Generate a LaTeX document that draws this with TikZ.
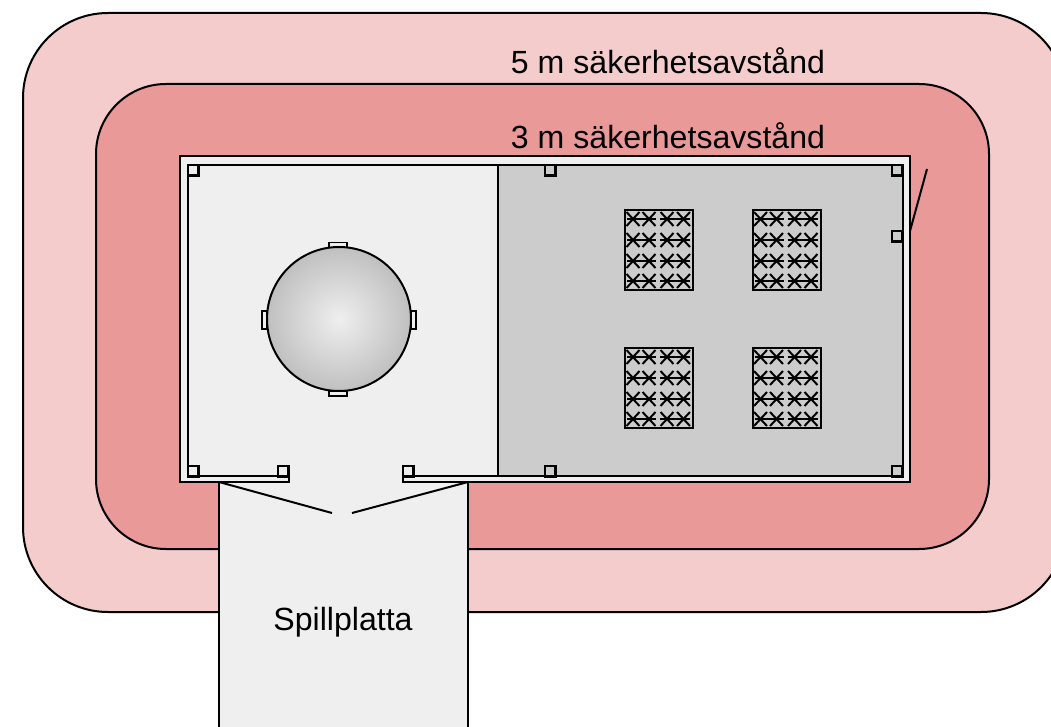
\documentclass[tikz,border=0pt]{standalone}
\usepackage{fontspec}
\setmainfont{Liberation Sans}
\definecolor{outerpink}{HTML}{F4CCCC}
\definecolor{midpink}{HTML}{EA9999}
\definecolor{lightgrey}{HTML}{EFEFEF}
\definecolor{roomgrey}{HTML}{CCCCCC}
\definecolor{tankedge}{HTML}{B8B8B8}
\pgfdeclareradialshading{tankshade}{\pgfpoint{0bp}{0bp}}{color(0bp)=(lightgrey); color(29bp)=(tankedge); color(100bp)=(tankedge)}
\tikzset{
  ln/.style={draw=black,line width=2pt},
  post/.style={draw=black,line width=2.2pt,fill=none},
  lug/.style={draw=black,line width=1.8pt,fill=lightgrey},
  rack/.style={draw=black,line width=2pt,fill=roomgrey},
  lab/.style={font=\fontsize{32.1}{36}\selectfont,text=black,inner sep=0pt,anchor=base},
  pallet/.pic={
    \draw[rack] (0,0) rectangle (68,80);
    \foreach \ry in {9,30,51,71}{
      \draw[line width=1.8pt] (2,\ry) -- (31,\ry) (35,\ry) -- (65,\ry);
      \foreach \cx in {8,24,42,58.5}{
        \draw[line width=2pt] (\cx-6.5,\ry-7) -- (\cx+6.5,\ry+7) (\cx-6.5,\ry+7) -- (\cx+6.5,\ry-7);
      }
    }
  }
}
\begin{document}
\begin{tikzpicture}[x=1pt,y=-1pt]
\useasboundingbox (0,0) rectangle (1051,727);
\clip (0,0) rectangle (1051,727);
\fill[white] (0,0) rectangle (1051,727);
% safety zones
\draw[ln,fill=outerpink,rounded corners=85pt] (23,13) rectangle (1066,612);
\draw[ln,fill=midpink,rounded corners=70pt] (96,84) rectangle (989,549);
% spill plate
\fill[lightgrey] (219,482) rectangle (468,730);
\draw[ln] (219,482) -- (219,730) (468,482) -- (468,730);
% building
\fill[lightgrey] (180,156) rectangle (910,482);
\fill[roomgrey] (498,165) rectangle (903,476);
\draw[ln] (289,476) -- (289,482) -- (180,482) -- (180,156) -- (910,156) -- (910,482) -- (403,482) -- (403,476);
\draw[ln] (289,476) -- (188,476) -- (188,165) -- (903,165) -- (903,476) -- (403,476);
\draw[ln] (498,165) -- (498,476);
% posts
\foreach \px/\py in {188/165,545/165,892/165,892/231,188/466,278/466,403/466,545/466,892/466}{
  \draw[post] (\px,\py) rectangle ++(10.5,10.5);
}
% doors
\coordinate (doorLa) at (219,482);
\coordinate (doorLb) at (332,513);
\coordinate (doorRa) at (468,482);
\coordinate (doorRb) at (352,513);
\coordinate (gateA) at (910,231);
\coordinate (gateB) at (927,169);
\draw[ln] (doorLa) -- (doorLb);
\draw[ln] (doorRa) -- (doorRb);
\draw[ln] (gateA) -- (gateB);
% tank
\draw[lug] (329,242.5) rectangle (347,247.5);
\draw[lug] (329,391) rectangle (347,396);
\draw[lug] (262,311) rectangle (267,329);
\draw[lug] (411,311) rectangle (416,329);
\shade[shading=tankshade] (339,319) circle (72);
\draw[ln] (339,319) circle (72);
% racks
\pic at (625,210) {pallet};
\pic at (752.5,210) {pallet};
\pic at (625,348) {pallet};
\pic at (752.5,348) {pallet};
% labels
\node[lab] (five) at (668,74) {5 m säkerhetsavstånd};
\node[lab] (three) at (668,149) {3 m säkerhetsavstånd};
\node[lab] (spill) at (343,630) {Spillplatta};
\end{tikzpicture}
\end{document}
